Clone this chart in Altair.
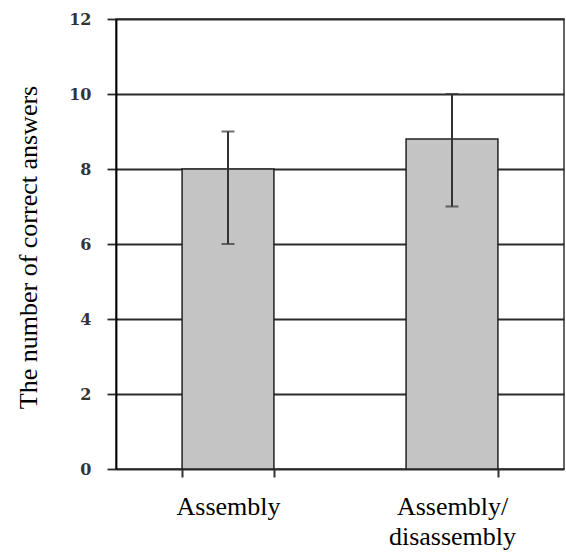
import altair as alt
import pandas as pd

categories = ["Assembly", "Assembly/ disassembly"]
means = [8.0, 8.8]
lows = [6.0, 7.0]
highs = [9.0, 10.0]
y_ticks = [0, 2, 4, 6, 8, 10, 12]

df = pd.DataFrame({"cat": categories, "mean": means, "low": lows, "high": highs})

x_enc = alt.X(
    "cat:N",
    sort=categories,
    scale=alt.Scale(paddingInner=0.59, paddingOuter=0.295),
    axis=alt.Axis(
        title=None,
        labelAngle=0,
        labelExpr="split(datum.label, ' ')",
        labelFont="Liberation Serif",
        labelFontSize=26,
        labelColor="black",
        labelLineHeight=30,
        labelPadding=16,
        labelBaseline="top",
        tickBand="extent",
        tickSize=8,
        tickColor="#333",
        tickWidth=2,
        domain=False,
        grid=False,
    ),
)

y_scale = alt.Scale(domain=[0, 12])

bars = alt.Chart(df).mark_bar(fill="#c4c4c4", stroke="#222", strokeWidth=1.5).encode(
    x=x_enc,
    y=alt.Y(
        "mean:Q",
        scale=y_scale,
        axis=alt.Axis(
            values=y_ticks,
            grid=True,
            gridColor="#2a2a2a",
            gridWidth=1.8,
            domainColor="black",
            domainWidth=1.8,
            tickSize=9,
            tickColor="#2a2a2a",
            tickWidth=1.8,
            labelFont="DejaVu Serif",
            labelFontWeight="bold",
            labelFontSize=16,
            labelColor="#333333",
            labelPadding=16,
            title="The number of correct answers",
            titleFont="Liberation Serif",
            titleFontSize=26,
            titleFontWeight="normal",
            titleColor="black",
            titleX=-80,
            titleY=228,
            titleAngle=-90,
            titleAlign="center",
            titleBaseline="alphabetic",
        ),
    ),
)

rules = alt.Chart(df).mark_rule(color="#333", strokeWidth=2).encode(
    x=alt.X("cat:N", sort=categories),
    y=alt.Y("low:Q", scale=y_scale),
    y2="high:Q",
)

caps_hi = alt.Chart(df).mark_tick(color="#333", thickness=2, size=13, orient="horizontal").encode(
    x=alt.X("cat:N", sort=categories),
    y=alt.Y("high:Q", scale=y_scale),
)
caps_lo = alt.Chart(df).mark_tick(color="#333", thickness=2, size=13, orient="horizontal").encode(
    x=alt.X("cat:N", sort=categories),
    y=alt.Y("low:Q", scale=y_scale),
)

chart = (
    alt.layer(bars, rules, caps_hi, caps_lo)
    .properties(
        width=448,
        height=450,
        autosize=alt.AutoSizeParams(type="none"),
        padding={"left": 116, "top": 19, "right": 2, "bottom": 88},
        background="white",
    )
    .configure_view(stroke="#333", strokeWidth=1.5)
)

chart.save("out.html", embed_options={"renderer": "svg", "actions": False})
